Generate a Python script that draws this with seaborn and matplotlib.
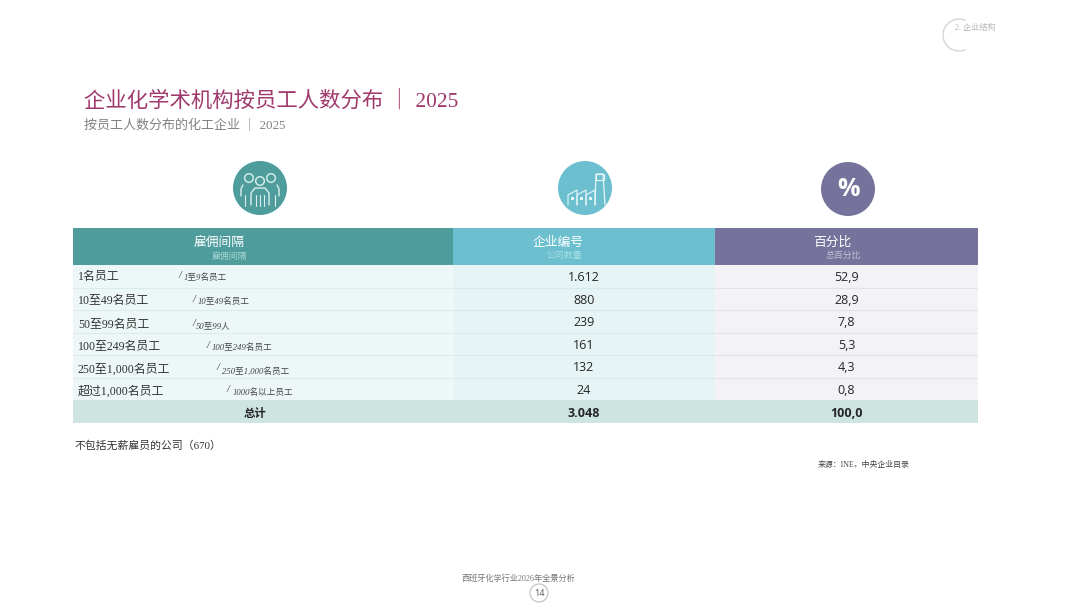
import matplotlib
matplotlib.use("Agg")
import matplotlib.pyplot as plt
import numpy as np
import pandas as pd
import seaborn as sns
from matplotlib.colors import ListedColormap
from matplotlib.patches import Arc, Circle, Rectangle

# table contents
row_labels = ["1名员工", "10至49名员工", "50至99名员工", "100至249名员工", "250至1,000名员工", "超过1,000名员工"]
row_sublabels = ["1至9名员工", "10至49名员工", "50至99人", "100至249名员工", "250至1,000名员工", "1000名以上员工"]
company_counts = ["1.612", "880", "239", "161", "132", "24", "3.048"]
percentages = ["52,9", "28,9", "7,8", "5,3", "4,3", "0,8", "100,0"]
total_label = "总计"
headers = ["雇佣间隔", "企业编号", "百分比"]
subheaders = ["雇佣间隔", "公司数量", "总百分比"]

# layout in pixels of the 1080x608 page
W, H = 1080, 608
col_edges = [73, 453, 715, 978]
header_top, body_top, table_bottom = 228, 265, 423
header_colors = ["#4f9c9d", "#6cbfcf", "#75739b"]
subheader_colors = ["#a5d6d4", "#a8e0e6", "#c3c2d8"]
body_colors = ["#eef7f7", "#e6f4f5", "#f3f2f7"]
line_colors = ["#dcebeb", "#d6eaec", "#e2e1ea"]
total_color = "#cde4e0"
slash_x = [178, 192, 192, 206, 216, 226]
sub_x = [184, 198, 196, 212, 222, 233]
label_y = [277, 301, 325, 347, 370, 392]

SERIF = ["Liberation Serif", "Noto Sans CJK SC"]
SANS = ["Open Sans", "Noto Sans CJK SC"]

sns.set_theme(style="white")
plt.rcParams["font.family"] = SERIF


def page_axes(fig, x0, y0, x1, y1):
    return fig.add_axes([x0 / W, 1 - y1 / H, (x1 - x0) / W, (y1 - y0) / H])


fig = plt.figure(figsize=(10.8, 6.08), dpi=100, facecolor="white")

# one heatmap per column, the columns are not the same width
columns = [[""] * 7, company_counts, percentages]
for i in range(3):
    ax_head = page_axes(fig, col_edges[i], header_top, col_edges[i + 1], body_top)
    sns.heatmap(np.zeros((1, 1)), ax=ax_head, cmap=ListedColormap([header_colors[i]]),
                cbar=False, xticklabels=False, yticklabels=False)

    shade = pd.DataFrame({"shade": [0] * 6 + [1]})
    ax_body = page_axes(fig, col_edges[i], body_top, col_edges[i + 1], table_bottom)
    sns.heatmap(shade, ax=ax_body, cmap=ListedColormap([body_colors[i], total_color]),
                vmin=0, vmax=1, cbar=False, xticklabels=False, yticklabels=False,
                annot=np.array(columns[i]).reshape(-1, 1), fmt="",
                annot_kws={"fontsize": 9, "color": "#262626", "family": SANS})
    ax_body.hlines(range(1, 6), 0, 1, color=line_colors[i], lw=0.8)
    for t in ax_body.texts:
        t.set_y(t.get_position()[1] + 0.06)
    if ax_body.texts:
        ax_body.texts[-1].set_fontweight("bold")

# overlay in page pixels for the loose text and the icons
ov = fig.add_axes([0, 0, 1, 1], facecolor="none")
ov.set_xlim(0, W)
ov.set_ylim(H, 0)
ov.axis("off")

ov.text(84, 101, "企业化学术机构按员工人数分布 ｜ 2025", fontsize=15.4, color="#a03a6c", va="center")
ov.text(84, 125, "按员工人数分布的化工企业 ｜ 2025", fontsize=9.4, color="#828282", va="center")

# header text
head_x = [219, 558, 832]
sub_head_x = [229, 564, 843]
for hx, sx, h, s, c in zip(head_x, sub_head_x, headers, subheaders, subheader_colors):
    ov.text(hx, 243, h, fontsize=9.2, color="white", ha="center", va="center")
    ov.text(sx, 256, s, fontsize=6.4, color=c, ha="center", va="center", style="italic")

# row labels
for i, (lab, sub) in enumerate(zip(row_labels, row_sublabels)):
    y = label_y[i]
    ov.text(78, y, lab, fontsize=8.6, color="#333333", va="center")
    ov.text(slash_x[i], y - 2, "/", fontsize=7.5, color="#333333", va="center", style="italic")
    ov.text(sub_x[i], y + 1, sub, fontsize=6.2, color="#444444", va="center", style="italic")
ov.text(255, 415, total_label, fontsize=8.2, color="#222222", ha="center", va="center",
        fontweight="bold", family=SANS)

# notes
ov.text(75, 445, "不包括无薪雇员的公司（670）", fontsize=7.8, color="#333333", va="center")
ov.text(818, 465, "来源：INE，中央企业目录", fontsize=5.7, color="#444444", va="center")
ov.text(518, 579, "西班牙化学行业2026年全景分析", fontsize=5.9, color="#777777", ha="center", va="center")
ov.add_patch(Circle((539, 593), 9, fill=False, ec="#bdbdbd", lw=0.8))
ov.text(539, 593.5, "14", fontsize=6.5, color="#555555", ha="center", va="center", family=SANS)

# section marker, top right
ov.add_patch(Arc((959, 35), 32, 32, theta1=65, theta2=295, ec="#d2d2d2", lw=0.9))
ov.text(955, 28, "2. 企业结构", fontsize=5.9, color="#b5b5b5", va="center")

# people icon: two behind, one in front
icon_line = "#d8f0ee"
ov.add_patch(Circle((260, 188), 27, fc="#4f9c9d", ec="none"))
for cx, cy in [(249, 178), (271, 178), (260, 181)]:
    ov.add_patch(Circle((cx, cy), 4.3, fill=False, ec=icon_line, lw=1))
ov.plot([243, 241, 241], [185, 189, 196], color=icon_line, lw=1)
ov.plot([277, 279, 279], [185, 189, 196], color=icon_line, lw=1)
ov.plot([251, 251, 255, 265, 269, 269], [205, 193, 188, 188, 193, 205], color=icon_line, lw=1)
for bx in [245, 256, 260, 264, 275]:
    ov.plot([bx, bx], [195, 206], color=icon_line, lw=0.8)

# factory icon
factory_line = "#e4f6f8"
ov.add_patch(Circle((585, 188), 27, fc="#6cbfcf", ec="none"))
ov.plot([595, 596, 603, 605], [205, 174, 174, 205], color=factory_line, lw=0.9)
ov.add_patch(Rectangle((596, 174), 7.5, 6, fill=False, ec=factory_line, lw=0.8))
for sx in [568, 577, 586]:
    ov.plot([sx, sx, sx + 9, sx + 9], [205, 195, 190, 205], color=factory_line, lw=0.8)
    ov.add_patch(Rectangle((sx + 3, 197), 2.5, 2.5, fc=factory_line, ec="none"))

# percent icon
ov.add_patch(Circle((848, 189), 27, fc="#75739b", ec="none"))
ov.text(848, 189.5, "%", fontsize=18, color="white", ha="center", va="center", fontweight="bold", family=SANS)

fig.savefig("out.png", dpi=100, facecolor="white")
